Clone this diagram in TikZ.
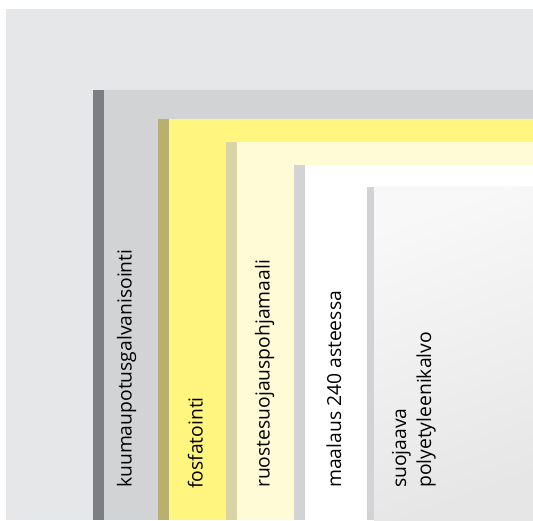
\documentclass[tikz,border=0pt]{standalone}
\usepackage{fontspec}
\setmainfont{Open Sans}
\usetikzlibrary{positioning}

\definecolor{baseFill}{HTML}{E6E7E9}
\definecolor{galvEdge}{HTML}{7D7E82}
\definecolor{galvFill}{HTML}{D2D3D5}
\definecolor{phosEdge}{HTML}{B8B06C}
\definecolor{phosFill}{HTML}{FFF57F}
\definecolor{primerEdge}{HTML}{D8D3A8}
\definecolor{primerFill}{HTML}{FFFBD7}
\definecolor{paintEdge}{HTML}{D2D3D5}
\definecolor{paintFill}{HTML}{FFFFFF}
\definecolor{filmEdge}{HTML}{D3D3D5}
\definecolor{filmTop}{HTML}{F8F8F8}
\definecolor{filmBottom}{HTML}{E6E6E6}

\begin{document}
\begin{tikzpicture}
        [x=1pt,y=-1pt,every node/.style={rotate=90,anchor=base west,
        inner sep=0pt,font=\fontsize{19.3}{25}\selectfont}]
        \useasboundingbox (0,0) rectangle (533,521);
        \fill[baseFill] (6,9) rectangle (533,520);
        %%
        \foreach \edgeX/\fillX/\topY/\edgeCol/\fillCol in
          {93/104/90/galvEdge/galvFill,
           158/169/119/phosEdge/phosFill,
           226/237/142/primerEdge/primerFill,
           294/305/165/paintEdge/paintFill}
        {
          \fill[\edgeCol] (\edgeX,\topY) rectangle (\fillX,520);
          \fill[\fillCol] (\fillX,\topY) rectangle (533,520);
        }
        %%
        \fill[filmEdge] (367,187) rectangle (374,520);
        \shade[top color=filmTop,bottom color=filmBottom,shading angle=20]
          (374,187) rectangle (533,520);
        %%
        \node (galv) at (131.5,488) {kuumaupotusgalvanisointi};
        \node (phos) at (202.5,489) {fosfatointi};
        \node (primer) at (269.5,488) {ruostesuojauspohjamaali};
        \node (paint) at (341,488) {maalaus 240 asteessa};
        \node[align=left] (film) at (431,488) {suojaava\\polyetyleenikalvo};
        \end{tikzpicture}
\end{document}
